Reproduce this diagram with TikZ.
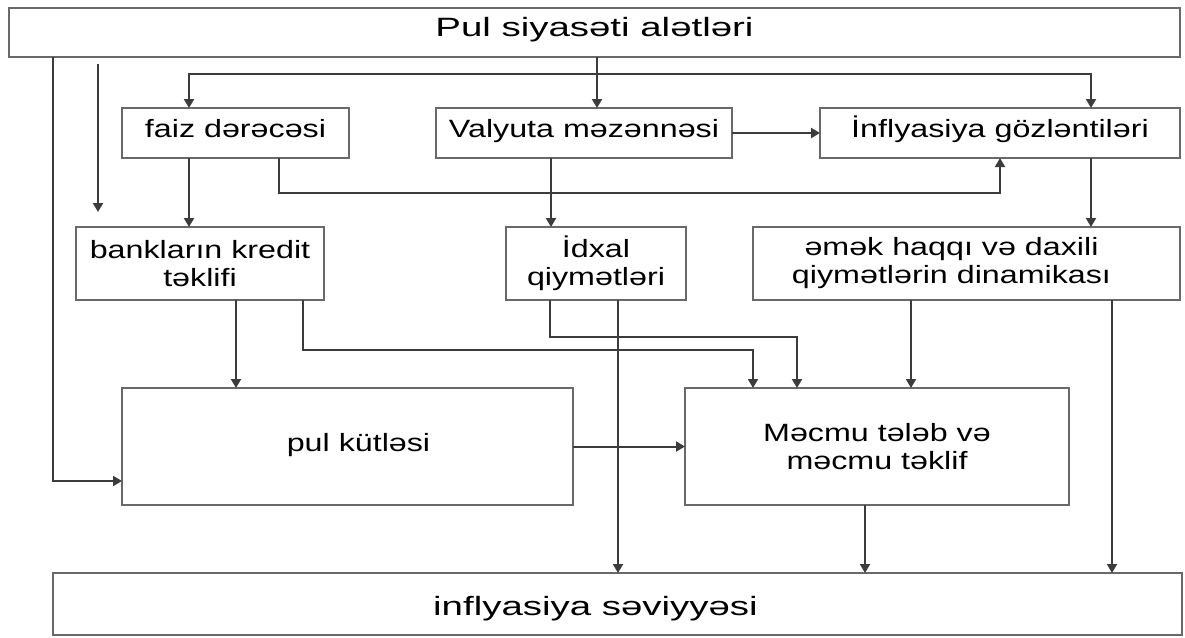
\documentclass[tikz,border=0pt]{standalone}
\usepackage{fontspec}
\setmainfont{Liberation Sans}
\newfontfamily\boxf[FakeStretch=1.29]{Liberation Sans}
\newfontfamily\bigf[FakeStretch=1.45]{Liberation Sans}
\usetikzlibrary{arrows.meta}
\definecolor{boxc}{RGB}{105,105,105}
\definecolor{linec}{RGB}{60,60,60}
\begin{document}
\begin{tikzpicture}[x=1pt,y=-1pt,
  bx/.style={draw=boxc, line width=2.4pt, fill=white, inner sep=0pt, outer sep=0pt,
    align=center, font=\boxf\fontsize{25}{28}\selectfont},
  one/.style={text height=17pt, text depth=8pt},
  big/.style={font=\bigf\fontsize{26.5}{30}\selectfont},
  arr/.style={draw=linec, line width=2pt, -{Triangle[length=9pt,width=10pt]}},
  dbl/.style={draw=linec, line width=2pt, {Triangle[length=9pt,width=10pt]}-{Triangle[length=9pt,width=10pt]}}]
\useasboundingbox (0,0) rectangle (1185,637);
\fill[white] (0,0) rectangle (1185,637);

% boxes
\node[bx, big, minimum width=1171pt, minimum height=49pt, text height=19pt, text depth=10.6pt] (top) at (594.5,32.5) {Pul siyasəti alətləri};
\node[bx, one, minimum width=227pt, minimum height=50pt] (faiz) at (235.5,133) {faiz dərəcəsi};
\node[bx, one, minimum width=296pt, minimum height=50pt] (val) at (584,133) {Valyuta məzənnəsi};
\node[bx, one, minimum width=360pt, minimum height=50pt] (gozl) at (1000,133) {İnflyasiya gözləntiləri};
\node[bx, minimum width=248pt, minimum height=73pt] (bankl) at (200,263.5) {bankların kredit\\təklifi};
\node[bx, minimum width=180pt, minimum height=73pt] (idxal) at (596,263.5) {İdxal\\qiymətləri};
\node[bx, minimum width=427pt, minimum height=73pt] (emek) at (966.5,263.5) {əmək haqqı və daxili\hspace*{30pt}\\qiymətlərin dinamikası\hspace*{30pt}};
\node[bx, one, minimum width=451pt, minimum height=117pt] (pul) at (347.5,446.5) {\hspace*{22pt}pul kütləsi};
\node[bx, minimum width=384pt, minimum height=117pt] (mecmu) at (877,446.5) {Məcmu tələb və\\məcmu təklif};
\node[bx, big, minimum width=1129pt, minimum height=62pt, text height=24pt, text depth=2pt] (bot) at (617.5,604) {inflyasiya səviyyəsi\hspace*{44pt}};

% helper coordinates
\coordinate (k1) at (53,481);
\coordinate (k2a) at (98,64);
\coordinate (k2b) at (98,212);
\coordinate (k3) at (597,0);
\coordinate (h1) at (189,74);
\coordinate (h2) at (1091,74);
\coordinate (k7) at (279,193);
\coordinate (k8) at (551,0);
\coordinate (k10) at (236,0);
\coordinate (k11) at (303,350);
\coordinate (k11b) at (753,350);
\coordinate (k12) at (550,337);
\coordinate (k12b) at (797,337);
\coordinate (k13) at (618,0);
\coordinate (k14) at (911,0);
\coordinate (k15) at (1112,0);
\coordinate (k17) at (865,0);

% connectors
\draw[arr] (top.south -| k1) -- (k1) -- (pul.west |- k1);
\draw[arr] (k2a) -- (k2b);
\draw[arr] (top.south -| k3) -- (val.north -| k3);
\draw[dbl] (faiz.north -| h1) -- (h1) -- (h2) -- (gozl.north -| h2);
\draw[arr] (val.east) -- (gozl.west);
\draw[arr] (faiz.south -| h1) -- (bankl.north -| h1);
\draw[arr] (faiz.south -| k7) -- (k7) -| (gozl.south);
\draw[arr] (val.south -| k8) -- (idxal.north -| k8);
\draw[arr] (gozl.south -| h2) -- (emek.north -| h2);
\draw[arr] (bankl.south -| k10) -- (pul.north -| k10);
\draw[arr] (bankl.south -| k11) -- (k11) -| (mecmu.north -| k11b);
\draw[arr] (idxal.south -| k12) -- (k12) -| (mecmu.north -| k12b);
\draw[arr] (idxal.south -| k13) -- (bot.north -| k13);
\draw[arr] (emek.south -| k14) -- (mecmu.north -| k14);
\draw[arr] (emek.south -| k15) -- (bot.north -| k15);
\draw[arr] (pul.east) -- (mecmu.west);
\draw[arr] (mecmu.south -| k17) -- (bot.north -| k17);
\end{tikzpicture}
\end{document}
